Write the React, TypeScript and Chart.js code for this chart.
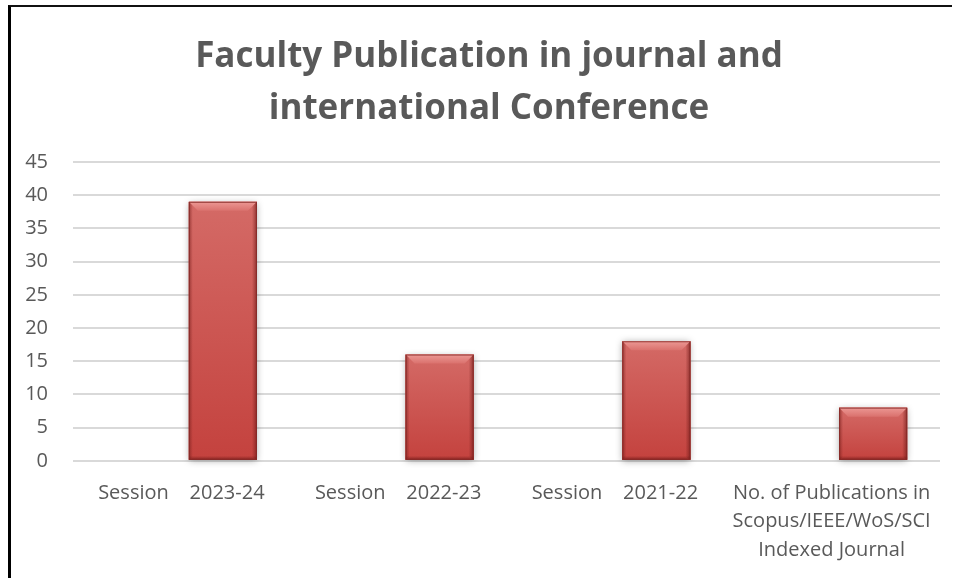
import React, { useEffect, useRef } from "react";
import { Chart, registerables } from "chart.js";

Chart.register(...registerables);

const chartTitle = ["Faculty Publication in journal and", "international Conference"];
const categories: (string | string[])[] = [
  "Session    2023-24",
  "Session    2022-23",
  "Session    2021-22",
  ["No. of Publications in", "Scopus/IEEE/WoS/SCI", "Indexed Journal"],
];
const blankSeries = [0, 0, 0, 0];
const publicationSeries = [39, 16, 18, 8];
const yMax = 45;
const yStep = 5;

const bevelPlugin = {
  id: "bevel",
  beforeDatasetsDraw(chart: any) {
    const meta = chart.getDatasetMeta(1);
    const ctx = chart.ctx;
    ctx.save();
    meta.data.forEach((bar: any) => {
      const { x, y, base, width } = bar.getProps(["x", "y", "base", "width"], true);
      const l = x - width / 2;
      const t = Math.min(y, base);
      const h = Math.abs(base - y);
      ctx.shadowColor = "rgba(0,0,0,0.35)";
      ctx.shadowBlur = 7;
      ctx.shadowOffsetX = 0;
      ctx.shadowOffsetY = 1;
      ctx.fillStyle = "#b94a47";
      ctx.fillRect(l, t, width, h);
    });
    ctx.restore();
  },
  afterDatasetsDraw(chart: any) {
    const meta = chart.getDatasetMeta(1);
    const ctx = chart.ctx;
    ctx.save();
    meta.data.forEach((bar: any) => {
      const { x, y, base, width } = bar.getProps(["x", "y", "base", "width"], true);
      const l = x - width / 2;
      const r = x + width / 2;
      const t = Math.min(y, base);
      const b = Math.max(y, base);
      const h = b - t;
      const bv = Math.min(9, h / 2);
      const g = ctx.createLinearGradient(0, t, 0, b);
      g.addColorStop(0, "#d46a66");
      g.addColorStop(1, "#c4423e");
      ctx.fillStyle = g;
      ctx.fillRect(l, t, width, h);
      const tg = ctx.createLinearGradient(0, t, 0, t + bv);
      tg.addColorStop(0, "#ec9894");
      tg.addColorStop(1, "#da716d");
      ctx.fillStyle = tg;
      ctx.beginPath();
      ctx.moveTo(l, t);
      ctx.lineTo(r, t);
      ctx.lineTo(r - bv, t + bv);
      ctx.lineTo(l + bv, t + bv);
      ctx.closePath();
      ctx.fill();
      const lg = ctx.createLinearGradient(l, 0, l + 4, 0);
      lg.addColorStop(0, "rgba(120,30,28,0.6)");
      lg.addColorStop(1, "rgba(120,30,28,0)");
      ctx.fillStyle = lg;
      ctx.beginPath();
      ctx.moveTo(l, t);
      ctx.lineTo(l + 4, t + 4);
      ctx.lineTo(l + 4, b - 3);
      ctx.lineTo(l, b);
      ctx.closePath();
      ctx.fill();
      const rg = ctx.createLinearGradient(r - 5, 0, r, 0);
      rg.addColorStop(0, "rgba(110,25,23,0)");
      rg.addColorStop(1, "rgba(110,25,23,0.65)");
      ctx.fillStyle = rg;
      ctx.beginPath();
      ctx.moveTo(r, t);
      ctx.lineTo(r - 5, t + 5);
      ctx.lineTo(r - 5, b - 3);
      ctx.lineTo(r, b);
      ctx.closePath();
      ctx.fill();
      const bg = ctx.createLinearGradient(0, b - 4, 0, b);
      bg.addColorStop(0, "rgba(110,25,23,0)");
      bg.addColorStop(1, "rgba(110,25,23,0.7)");
      ctx.fillStyle = bg;
      ctx.fillRect(l, b - 4, width, 4);
      ctx.strokeStyle = "rgba(130,40,38,0.8)";
      ctx.lineWidth = 1;
      ctx.strokeRect(l + 0.5, t + 0.5, width - 1, h - 1);
    });
    ctx.restore();
  },
};

export default function App() {
  const ref = useRef<HTMLCanvasElement | null>(null);

  useEffect(() => {
    if (!ref.current) return;
    const chart = new Chart(ref.current, {
      type: "bar",
      data: {
        labels: categories,
        datasets: [
          {
            label: "Series 1",
            data: blankSeries,
            backgroundColor: "#4f81bd",
            categoryPercentage: 0.766,
            barPercentage: 0.82,
          },
          {
            label: "Series 2",
            data: publicationSeries,
            backgroundColor: "#c9504c",
            borderWidth: 0,
            categoryPercentage: 0.766,
            barPercentage: 0.82,
          },
        ],
      },
      options: {
        responsive: false,
        animation: false,
        layout: { padding: { left: 25, right: 7, top: 0, bottom: 0 } },
        plugins: {
          legend: { display: false },
          tooltip: { enabled: false },
          title: {
            display: true,
            text: chartTitle,
            color: "#595959",
            font: { family: "'Open Sans', sans-serif", size: 35, weight: "bold", lineHeight: 1.486 },
            padding: { top: 31, bottom: 27 },
          },
        },
        scales: {
          x: {
            grid: { display: false, drawTicks: false },
            border: { display: false },
            ticks: {
              color: "#595959",
              font: { family: "'Open Sans', sans-serif", size: 20, lineHeight: 1.42 },
              padding: 18,
              maxRotation: 0,
              minRotation: 0,
              autoSkip: false,
            },
          },
          y: {
            min: 0,
            max: yMax,
            grid: { color: "#d9d9d9", lineWidth: 2, drawTicks: false },
            border: { display: false },
            afterFit: (scale: any) => {
              scale.width = 48;
            },
            ticks: {
              stepSize: yStep,
              color: "#595959",
              font: { family: "'Open Sans', sans-serif", size: 20 },
              padding: 25,
            },
          },
          yRight: {
            position: "right",
            display: true,
            grid: { display: false, drawTicks: false },
            border: { display: false },
            ticks: { display: false },
            afterFit: (scale: any) => {
              scale.width = 13;
            },
          },
        },
      },
      plugins: [bevelPlugin],
    });
    return () => chart.destroy();
  }, []);

  return (
    <div style={{ position: "absolute", left: 0, top: 0, width: 960, height: 578, background: "#fff", overflow: "hidden" }}>
      <div
        style={{
          position: "absolute",
          left: 8,
          top: 5,
          width: 941,
          height: 600,
          borderLeft: "3px solid #000",
          borderTop: "2px solid #111",
        }}
      />
      <canvas ref={ref} width={960} height={582} style={{ position: "absolute", left: 0, top: 0, width: 960, height: 582 }} />
    </div>
  );
}
